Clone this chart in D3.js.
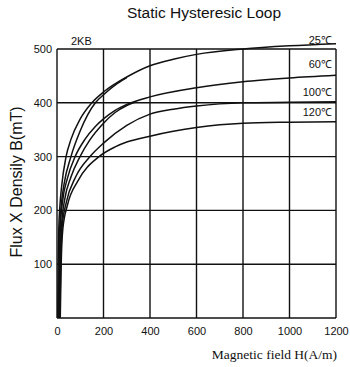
<!DOCTYPE html>
<html><head><meta charset="utf-8">
<script src="https://cdn.jsdelivr.net/npm/d3@7"></script>
<style>body{margin:0;background:#fff}svg{display:block}</style>
</head><body>
<script>
const title = "Static Hysteresic Loop";
const xTicks = [0,200,400,600,800,1000,1200];
const yTicks = [100,200,300,400,500];
const yTickLabels = ["100","200","300","400","500"];
const xLabel = "Magnetic field H(A/m)";
const yLabel = "Flux X Densily B(mT)";
const materialLabel = "2KB";
const c25a = [[3,0],[5,100],[8,170],[12,205],[20,245],[39,300],[60,332],[100,370],[150,400],[200,420],[300,448],[400,469],[500,481],[600,490],[800,500],[1000,506],[1200,510]];
const c25b = [[6,0],[9,100],[12,170],[18,208],[30,248],[60,300],[100,348],[165,400],[200,415],[260,436],[300,447]];
const c60a = [[8,0],[11,100],[15,175],[25,220],[45,260],[78,300],[120,332],[165,356],[200,370],[250,386],[300,397],[400,411],[600,428],[800,439],[1000,446],[1200,451]];
const c60b = [[10,0],[14,100],[20,175],[33,220],[60,262],[99,300],[140,330],[200,362],[250,382],[300,395],[340,402]];
const c100 = [[12,0],[16,100],[22,170],[40,215],[80,262],[142,300],[200,325],[300,358],[400,379],[500,388],[600,394],[700,398],[800,400],[1000,401],[1200,402]];
const c120 = [[14,0],[18,100],[25,165],[45,210],[90,255],[181,300],[250,318],[300,327],[400,338],[500,347],[600,354],[700,359],[800,362],[1000,364],[1200,365]];
const curves = [c25a,c25b,c60a,c60b,c100,c120];
const tempLabels = ["25℃","60℃","100℃","120℃"];
const tempLabelB = [517, 472, 420, 382];

const W=350,H=367;
const svg=d3.select("body").append("svg").attr("width",W).attr("height",H);
const x=d3.scaleLinear().domain([0,1200]).range([57,336]);
const y=d3.scaleLinear().domain([0,500]).range([318,49]);
const font="Liberation Sans, Arial, sans-serif";

// grid
const g=svg.append("g");
g.selectAll("line.v").data(xTicks).join("line")
 .attr("x1",d=>x(d)).attr("x2",d=>x(d)).attr("y1",y(0)).attr("y2",y(500))
 .attr("stroke","#111").attr("stroke-width",1.4);
g.selectAll("line.h").data([0].concat(yTicks)).join("line").attr("class","h")
 .attr("x1",x(0)).attr("x2",x(1200)).attr("y1",d=>y(d)).attr("y2",d=>y(d))
 .attr("stroke","#111").attr("stroke-width",1.4);

const xa=svg.append("g").attr("transform",`translate(0,${y(0)})`)
 .call(d3.axisBottom(x).tickValues(xTicks).tickFormat(d3.format("d")).tickSize(0).tickPadding(9));
xa.select(".domain").remove();
xa.selectAll("text").attr("font-family",font).attr("font-size",11).attr("fill","#111");
const ya=svg.append("g").attr("transform",`translate(${x(0)},0)`)
 .call(d3.axisLeft(y).tickValues(yTicks).tickFormat((d,i)=>yTickLabels[i]).tickSize(0).tickPadding(5));
ya.select(".domain").remove();
ya.selectAll("text").attr("font-family",font).attr("font-size",11).attr("fill","#111");

const line=d3.line().x(d=>x(d[0])).y(d=>y(d[1])).curve(d3.curveMonotoneX);
svg.selectAll("path.c").data(curves).join("path").attr("class","c")
 .attr("d",line).attr("fill","none").attr("stroke","#111").attr("stroke-width",1.5);

svg.selectAll("text.t").data(tempLabels).join("text").attr("class","t")
 .attr("x",x(1200)-4).attr("y",(d,i)=>y(tempLabelB[i])+4).attr("text-anchor","end")
 .attr("font-family",font).attr("font-size",11).attr("fill","#111").text(d=>d);

svg.append("text").attr("x",x(60)).attr("y",45).attr("font-family",font).attr("font-size",11).attr("fill","#111").text(materialLabel);

svg.append("text").attr("x",204).attr("y",18).attr("text-anchor","middle")
 .attr("font-family",font).attr("font-size",15.5).attr("fill","#111").text(title);

svg.append("text").attr("transform","translate(22,182) rotate(-90)").attr("text-anchor","middle")
 .attr("font-family",font).attr("font-size",16).attr("fill","#111").text(yLabel);

svg.append("text").attr("x",337).attr("y",359).attr("text-anchor","end")
 .attr("font-family","Liberation Serif, Times New Roman, serif").attr("font-size",13.5).attr("fill","#111").text(xLabel);
</script>
</body></html>
